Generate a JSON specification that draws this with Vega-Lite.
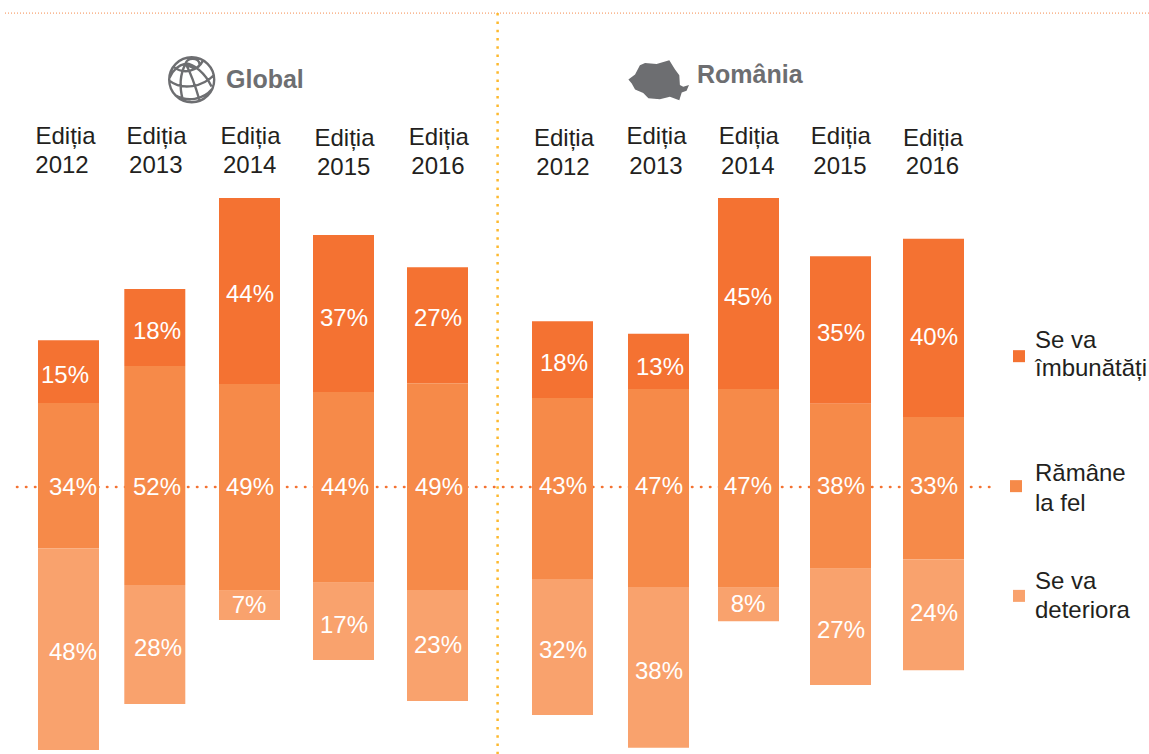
{
"$schema":"https://vega.github.io/schema/vega-lite/v6.json",
"width":1149,"height":754,
"autosize":{"type":"none"},
"padding":0,
"background":"#ffffff",
"config":{"view":{"stroke":null},"text":{"font":"Liberation Sans"}},
"datasets":{
"bars":[
{"panel":"Global","edition":2012,"category":"Se va îmbunătăți","value":15,"x":68.5,"y":34.8,"y2":19.9,"lx":65,"ly":26.5},
{"panel":"Global","edition":2012,"category":"Rămâne la fel","value":34,"x":68.5,"y":19.9,"y2":-14.5,"lx":73,"ly":0},
{"panel":"Global","edition":2012,"category":"Se va deteriora","value":48,"x":68.5,"y":-14.5,"y2":-62.3,"lx":73,"ly":-39.1},
{"panel":"Global","edition":2013,"category":"Se va îmbunătăți","value":18,"x":154.8,"y":46.9,"y2":28.7,"lx":157,"ly":37.0},
{"panel":"Global","edition":2013,"category":"Rămâne la fel","value":52,"x":154.8,"y":28.7,"y2":-23.2,"lx":157,"ly":0},
{"panel":"Global","edition":2013,"category":"Se va deteriora","value":28,"x":154.8,"y":-23.2,"y2":-51.4,"lx":158,"ly":-38.2},
{"panel":"Global","edition":2014,"category":"Se va îmbunătăți","value":44,"x":249.5,"y":68.5,"y2":24.4,"lx":250,"ly":45.7},
{"panel":"Global","edition":2014,"category":"Rămâne la fel","value":49,"x":249.5,"y":24.4,"y2":-24.6,"lx":250,"ly":0},
{"panel":"Global","edition":2014,"category":"Se va deteriora","value":7,"x":249.5,"y":-24.6,"y2":-31.5,"lx":249,"ly":-28.0},
{"panel":"Global","edition":2015,"category":"Se va îmbunătăți","value":37,"x":343.5,"y":59.7,"y2":22.5,"lx":344,"ly":40.0},
{"panel":"Global","edition":2015,"category":"Rămâne la fel","value":44,"x":343.5,"y":22.5,"y2":-22.7,"lx":345,"ly":0},
{"panel":"Global","edition":2015,"category":"Se va deteriora","value":17,"x":343.5,"y":-22.7,"y2":-41.0,"lx":344,"ly":-32.7},
{"panel":"Global","edition":2016,"category":"Se va îmbunătăți","value":27,"x":437.5,"y":52.1,"y2":24.6,"lx":438,"ly":40.0},
{"panel":"Global","edition":2016,"category":"Rămâne la fel","value":49,"x":437.5,"y":24.6,"y2":-24.4,"lx":439,"ly":0},
{"panel":"Global","edition":2016,"category":"Se va deteriora","value":23,"x":437.5,"y":-24.4,"y2":-50.7,"lx":438,"ly":-37.4},
{"panel":"România","edition":2012,"category":"Se va îmbunătăți","value":18,"x":562.5,"y":39.3,"y2":21.1,"lx":564,"ly":29.4},
{"panel":"România","edition":2012,"category":"Rămâne la fel","value":43,"x":562.5,"y":21.1,"y2":-21.8,"lx":563,"ly":0.2},
{"panel":"România","edition":2012,"category":"Se va deteriora","value":32,"x":562.5,"y":-21.8,"y2":-54.0,"lx":563,"ly":-38.6},
{"panel":"România","edition":2013,"category":"Se va îmbunătăți","value":13,"x":658.5,"y":36.3,"y2":23.2,"lx":660,"ly":28.4},
{"panel":"România","edition":2013,"category":"Rămâne la fel","value":47,"x":658.5,"y":23.2,"y2":-23.7,"lx":659,"ly":0.2},
{"panel":"România","edition":2013,"category":"Se va deteriora","value":38,"x":658.5,"y":-23.7,"y2":-61.8,"lx":659,"ly":-43.6},
{"panel":"România","edition":2014,"category":"Se va îmbunătăți","value":45,"x":748.5,"y":68.5,"y2":23.2,"lx":748,"ly":45.0},
{"panel":"România","edition":2014,"category":"Rămâne la fel","value":47,"x":748.5,"y":23.2,"y2":-23.9,"lx":748,"ly":0.2},
{"panel":"România","edition":2014,"category":"Se va deteriora","value":8,"x":748.5,"y":-23.9,"y2":-31.8,"lx":748,"ly":-27.7},
{"panel":"România","edition":2015,"category":"Se va îmbunătăți","value":35,"x":840.5,"y":54.7,"y2":19.7,"lx":841,"ly":36.5},
{"panel":"România","edition":2015,"category":"Rămâne la fel","value":38,"x":840.5,"y":19.7,"y2":-19.4,"lx":841,"ly":0.2},
{"panel":"România","edition":2015,"category":"Se va deteriora","value":27,"x":840.5,"y":-19.4,"y2":-46.9,"lx":841,"ly":-33.9},
{"panel":"România","edition":2016,"category":"Se va îmbunătăți","value":40,"x":933.5,"y":58.8,"y2":16.6,"lx":934,"ly":35.5},
{"panel":"România","edition":2016,"category":"Rămâne la fel","value":33,"x":933.5,"y":16.6,"y2":-17.1,"lx":934,"ly":0.2},
{"panel":"România","edition":2016,"category":"Se va deteriora","value":24,"x":933.5,"y":-17.1,"y2":-43.4,"lx":934,"ly":-29.9}
],
"headers":[
{"t":"Ediția","x":65.5,"y":81.3},{"t":"2012","x":62,"y":74.4},
{"t":"Ediția","x":156.5,"y":81.3},{"t":"2013","x":155.8,"y":74.4},
{"t":"Ediția","x":250.5,"y":81.3},{"t":"2014","x":249.7,"y":74.4},
{"t":"Ediția","x":344.5,"y":80.8},{"t":"2015","x":343.7,"y":73.9},
{"t":"Ediția","x":438.8,"y":81.0},{"t":"2016","x":438,"y":74.2},
{"t":"Ediția","x":564,"y":80.9},{"t":"2012","x":563,"y":73.9},
{"t":"Ediția","x":656.5,"y":81.2},{"t":"2013","x":656,"y":74.1},
{"t":"Ediția","x":748.8,"y":81.2},{"t":"2014","x":747.8,"y":74.1},
{"t":"Ediția","x":840.8,"y":81.2},{"t":"2015","x":840,"y":74.1},
{"t":"Ediția","x":933,"y":80.9},{"t":"2016","x":932.5,"y":74.1}
],
"legendText":[
{"t":"Se va","x":1035,"y":33.0},{"t":"îmbunătăți","x":1035,"y":26.3},
{"t":"Rămâne","x":1035,"y":1.4},{"t":"la fel","x":1035,"y":-5.7},
{"t":"Se va","x":1035,"y":-24.1},{"t":"deteriora","x":1035,"y":-31.0}
],
"legendMarks":[
{"category":"Se va îmbunătăți","x":1019,"y":31.0},
{"category":"Rămâne la fel","x":1016,"y":0.2},
{"category":"Se va deteriora","x":1019,"y":-25.8}
],
"titles":[
{"t":"Global","x":226,"y":94.5},{"t":"România","x":697,"y":95.7}
]
},
"encoding":{
"x":{"field":"x","type":"quantitative","axis":null,"scale":{"domain":[0,1149],"nice":false,"zero":false,"padding":0}},
"y":{"field":"y","type":"quantitative","axis":null,"scale":{"domain":[-63.27,115.4],"nice":false,"zero":false}}
},
"layer":[
{"data":{"values":[{"x":5,"x2":1149,"y":112.3}]},
 "mark":{"type":"rule","stroke":"#F58B4C","strokeWidth":1,"strokeDash":[1,2]},
 "encoding":{"x2":{"field":"x2"}}},
{"data":{"values":[{"x":497.6,"y":112.3,"y2":-63.27}]},
 "mark":{"type":"rule","stroke":"#FDB92E","strokeWidth":2.5,"strokeDash":[2.5,5.8]},
 "encoding":{"y2":{"field":"y2"}}},
{"data":{"values":[{"x":17,"x2":998,"y":0}]},
 "mark":{"type":"rule","stroke":"#F47232","strokeWidth":2.6,"strokeCap":"round","strokeDash":[0.4,8.6]},
 "encoding":{"x2":{"field":"x2"}}},
{"data":{"name":"bars"},
 "mark":{"type":"bar","size":61,"orient":"vertical"},
 "encoding":{"y2":{"field":"y2"},
  "color":{"field":"category","type":"nominal","legend":null,
   "scale":{"domain":["Se va îmbunătăți","Rămâne la fel","Se va deteriora"],"range":["#F47232","#F68A49","#F9A26D"]}}}},
{"data":{"name":"bars"},
 "transform":[{"calculate":"datum.value + '%'","as":"pct"}],
 "mark":{"type":"text","fontSize":24,"color":"#ffffff","baseline":"middle","dy":0.7,"align":"center"},
 "encoding":{"x":{"field":"lx","type":"quantitative"},"y":{"field":"ly","type":"quantitative"},"text":{"field":"pct","type":"nominal"}}},
{"data":{"name":"headers"},
 "mark":{"type":"text","fontSize":24,"color":"#231F20","baseline":"alphabetic","align":"center"},
 "encoding":{"text":{"field":"t","type":"nominal"}}},
{"data":{"name":"legendText"},
 "mark":{"type":"text","fontSize":24,"color":"#231F20","baseline":"alphabetic","align":"left"},
 "encoding":{"text":{"field":"t","type":"nominal"}}},
{"data":{"name":"legendMarks"},
 "mark":{"type":"point","shape":"square","filled":true,"size":144,"opacity":1},
 "encoding":{"color":{"field":"category","type":"nominal","legend":null}}},
{"data":{"name":"titles"},
 "mark":{"type":"text","fontSize":25,"fontWeight":"bold","color":"#6D6E71","baseline":"alphabetic","align":"left"},
 "encoding":{"text":{"field":"t","type":"nominal"}}},
{"data":{"values":[{"x":191.7,"y":96.5}]},
 "mark":{"type":"point","filled":false,"size":2025,"opacity":1,"stroke":"#6D6E71","strokeWidth":2.4,
  "shape":"M-1,0A1,1 0 1,1 1,0A1,1 0 1,1 -1,0ZM-0.78,-0.55C-0.3,-0.2 0.3,-0.45 0.5,-0.85M-0.98,0.05C-0.4,0.5 0.5,0.3 0.98,-0.2M-0.75,0.68C-0.2,1 0.5,0.9 0.92,0.4M-0.27,-0.72C-0.55,-0.2 -0.55,0.3 -0.4,0.88M-0.27,-0.72C0,-0.2 0.2,0.4 0.35,0.92M-0.27,-0.72C0.1,-0.7 0.6,-0.3 0.88,0.3M-0.27,-0.72C-0.6,-0.65 -0.85,-0.4 -0.98,-0.1M-0.27,-0.72C-0.2,-1 0.3,-1 0.35,-0.7C0.35,-0.5 0.05,-0.45 -0.27,-0.72"}},
{"data":{"values":[{"x":658.7,"y":96.4}]},
 "mark":{"type":"point","filled":true,"size":3672,"opacity":1,"color":"#6D6E71",
  "shape":"M-1,-0.02L-0.78,-0.19L-0.62,-0.49L-0.45,-0.57L-0.07,-0.53L0.35,-0.66L0.54,-0.35L0.68,-0.16L0.7,0.16L0.81,0.22L1,0.16L0.92,0.35L0.76,0.41L0.68,0.66L0.37,0.55L0.04,0.63L-0.34,0.6L-0.51,0.42L-0.78,0.31L-0.89,0.11Z"}}
]
}
